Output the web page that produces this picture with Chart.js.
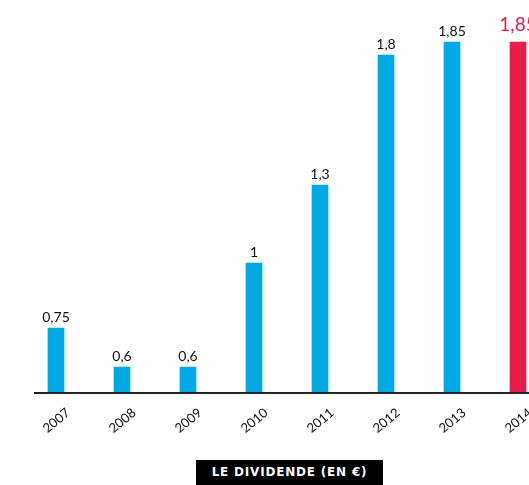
<!DOCTYPE html>
<html lang="fr">
<head>
<meta charset="utf-8">
<title>Le dividende</title>
<script src="https://cdn.jsdelivr.net/npm/chart.js@4/dist/chart.umd.min.js"></script>
<style>
  html, body { margin: 0; padding: 0; background: #fff; }
  #wrap { position: relative; width: 529px; height: 485px; overflow: hidden; }
  #box { position: absolute; left: 0; top: 0; width: 551px; height: 485px; }
  #titre {
    position: absolute; left: 196px; top: 460px; width: 187px; height: 25px;
    background: #000; color: #fff; font: 700 12px "DejaVu Sans", sans-serif;
    letter-spacing: 0.8px; line-height: 25px; text-align: center;
  }
</style>
</head>
<body>
<div id="wrap">
  <div id="box"><canvas id="chart"></canvas></div>
  <div id="titre">LE DIVIDENDE (EN €)</div>
</div>
<script>
const annees = ["2007", "2008", "2009", "2010", "2011", "2012", "2013", "2014"];
const dividende = [0.75, 0.6, 0.6, 1, 1.3, 1.8, 1.85, 1.85];
const etiquettes = ["0,75", "0,6", "0,6", "1", "1,3", "1,8", "1,85", "1,85"];

const bleu = "#00a9e6";
const rouge = "#e91d4a";
const couleurs = annees.map((a, i) => (i === annees.length - 1 ? rouge : bleu));

// values written above each bar, the current year in red and bigger
const valeurs = {
  id: "valeurs",
  afterDatasetsDraw(chart) {
    const ctx = chart.ctx;
    const meta = chart.getDatasetMeta(0);
    ctx.save();
    ctx.textAlign = "center";
    ctx.textBaseline = "bottom";
    meta.data.forEach((bar, i) => {
      const dernier = i === meta.data.length - 1;
      ctx.fillStyle = dernier ? rouge : "#111";
      ctx.font = (dernier ? "19px" : "14px") + " Lato, sans-serif";
      ctx.fillText(etiquettes[i], bar.x, bar.y - (dernier ? 8 : 4));
    });
    ctx.restore();
  }
};

// base line under the bars
const ligne = {
  id: "ligne",
  afterDatasetsDraw(chart) {
    const ctx = chart.ctx;
    const y = chart.scales.y.getPixelForValue(0.5);
    ctx.save();
    ctx.strokeStyle = "#222";
    ctx.lineWidth = 2;
    ctx.beginPath();
    ctx.moveTo(34, y);
    ctx.lineTo(chart.chartArea.right, y);
    ctx.stroke();
    ctx.restore();
  }
};

new Chart(document.getElementById("chart"), {
  type: "bar",
  data: {
    labels: annees,
    datasets: [{
      data: dividende,
      backgroundColor: couleurs,
      barThickness: 16
    }]
  },
  options: {
    responsive: true,
    maintainAspectRatio: false,
    animation: false,
    layout: { padding: { left: 23, top: 3, right: 0, bottom: 0 } },
    plugins: {
      legend: { display: false },
      tooltip: { enabled: false }
    },
    scales: {
      x: {
        grid: { display: false, drawTicks: false },
        border: { display: false },
        afterFit(s) { s.height = 92; },
        ticks: {
          color: "#111",
          font: { family: "Lato", size: 13 },
          minRotation: 40,
          maxRotation: 40,
          padding: 12,
          labelOffset: 12
        }
      },
      y: {
        display: false,
        min: 0.5,
        max: 2
      }
    }
  },
  plugins: [valeurs, ligne]
});
</script>
</body>
</html>
